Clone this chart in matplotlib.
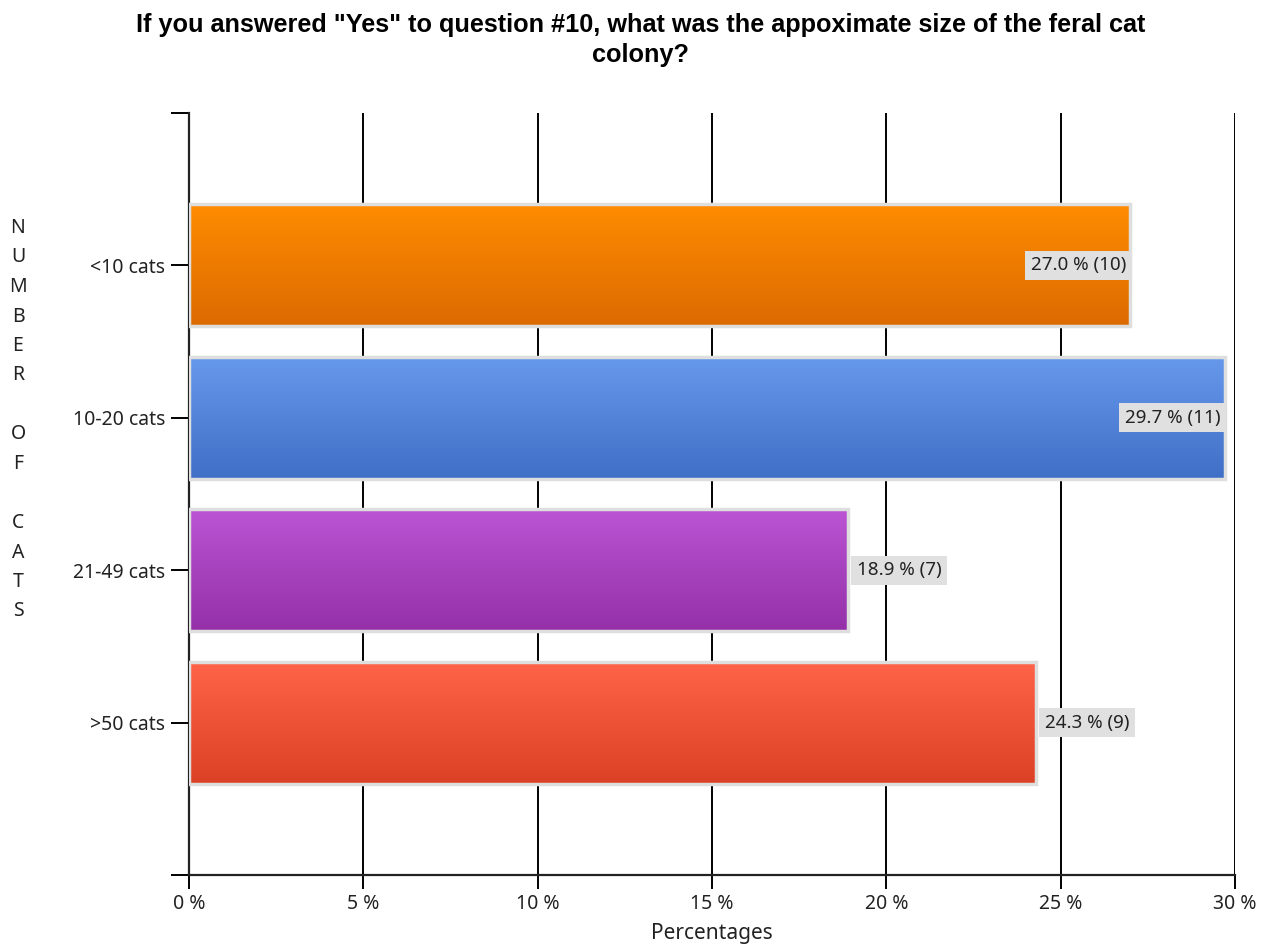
import numpy as np
import matplotlib
matplotlib.use("Agg")
import matplotlib.pyplot as plt
from matplotlib.colors import LinearSegmentedColormap

categories = ["<10 cats", "10-20 cats", "21-49 cats", ">50 cats"]
percents = [27.0, 29.7, 18.9, 24.3]
counts = [10, 11, 7, 9]
top_colors = ["#ff8c00", "#6698ec", "#bb55d4", "#ff6349"]
bottom_colors = ["#dc6a00", "#3f6fc6", "#9430a8", "#db4124"]
xticks = [0, 5, 10, 15, 20, 25, 30]
ylabel_words = ["NUMBER", "OF", "CATS"]

W, H = 1273, 948
fig = plt.figure(figsize=(W / 100, H / 100), dpi=100)
ax = fig.add_axes([0.1485, 0.0770, 0.8217, 0.8038])

ax.set_xlim(0, 30)
ax.set_ylim(4, -1)

# vertical grid lines behind the bars
ax.set_xticks(xticks)
ax.set_xticklabels([f"{t} %" for t in xticks], fontsize=14, family="Noto Sans", color="#222222")
ax.grid(axis="x", color="black", linewidth=1.4, zorder=0)
ax.set_axisbelow(True)

ypos = np.arange(len(categories))
bar_h = 0.8
grad = np.linspace(0, 1, 256).reshape(-1, 1)
for i, (v, c0, c1) in enumerate(zip(percents, top_colors, bottom_colors)):
    cmap = LinearSegmentedColormap.from_list(f"g{i}", [c0, c1])
    bar = ax.barh(ypos[i], v, height=bar_h, facecolor="none",
                  edgecolor="#dedede", linewidth=2.5, zorder=3)[0]
    im = ax.imshow(grad, cmap=cmap, aspect="auto", zorder=2,
                   extent=[0, v, ypos[i] + bar_h / 2, ypos[i] - bar_h / 2])
    im.set_clip_path(bar)

    # value label: inside the end of the bar if it would run past the axis
    label = f"{v:.1f} % ({counts[i]})"
    box = dict(boxstyle="square,pad=0.3", facecolor="#e0e0e0", edgecolor="none")
    if v + 3.3 > 30:
        ax.text(v - 0.12, ypos[i], label, ha="right", va="center", fontsize=13.5,
                family="Noto Sans", color="#222222", zorder=5, bbox=box)
    else:
        ax.text(v + 0.25, ypos[i], label, ha="left", va="center", fontsize=13.5,
                family="Noto Sans", color="#222222", zorder=5, bbox=box)

ax.set_yticks([-1, 0, 1, 2, 3, 4])
ax.set_yticklabels([""] + categories + [""], fontsize=14, family="Noto Sans", color="#222222")
ax.tick_params(axis="y", length=13, width=1.4, color="black", pad=4)
ax.tick_params(axis="x", length=10, width=1.4, color="black", pad=4, direction="out")

for side in ["top", "right"]:
    ax.spines[side].set_visible(False)
for side in ["left", "bottom"]:
    ax.spines[side].set_linewidth(1.6)
    ax.spines[side].set_color("#222222")

ax.set_xlabel("Percentages", fontsize=15, family="Noto Sans", color="#222222", labelpad=6)

# stacked letters for the category axis title, blank line between words
letters = []
for k, word in enumerate(ylabel_words):
    if k:
        letters.append("")
    letters.extend(word)
for i, ch in enumerate(letters):
    fig.text(18 / W, 1 - (228 + i * 29.5) / H, ch, fontsize=14, family="Noto Sans",
             ha="center", va="center", color="#222222")

fig.suptitle('If you answered "Yes" to question #10, what was the appoximate size of the feral cat\ncolony?',
             x=0.503, y=0.986, fontsize=18.2, fontweight="bold", family="Liberation Sans",
             linespacing=1.3)

fig.savefig("out.png", dpi=100)
